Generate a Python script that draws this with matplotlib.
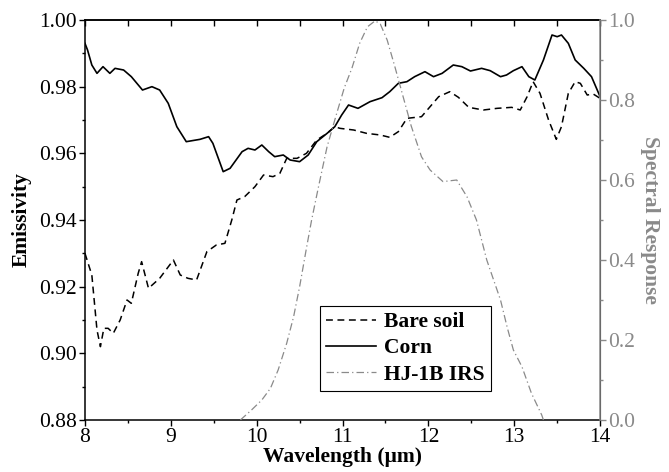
import matplotlib
matplotlib.use("Agg")
import matplotlib.pyplot as plt
from matplotlib.ticker import MultipleLocator, FormatStrFormatter

plt.rcParams['font.family'] = ['Liberation Serif', 'DejaVu Serif']

# Emissivity spectra
corn_wl = [8.00, 8.03, 8.08, 8.14, 8.21, 8.29, 8.35, 8.45, 8.54, 8.67,
           8.78, 8.87, 8.97, 9.07, 9.18, 9.34, 9.44, 9.49, 9.61, 9.69,
           9.83, 9.90, 9.98, 10.06, 10.14, 10.21, 10.31, 10.39, 10.50, 10.60,
           10.70, 10.82, 10.91, 10.99, 11.07, 11.18, 11.32, 11.46, 11.55, 11.65,
           11.75, 11.84, 11.96, 12.06, 12.16, 12.29, 12.39, 12.49, 12.62, 12.72,
           12.84, 12.91, 12.99, 13.09, 13.17, 13.24, 13.34, 13.44, 13.50, 13.55,
           13.63, 13.71, 13.81, 13.90, 14.00]
corn_em = [0.993, 0.991, 0.9865, 0.984, 0.986, 0.984, 0.9855, 0.985, 0.983, 0.979,
           0.980, 0.979, 0.975, 0.968, 0.9635, 0.9642, 0.965, 0.963, 0.9545, 0.9555,
           0.9605, 0.9615, 0.961, 0.9625, 0.9605, 0.959, 0.9595, 0.958, 0.9575, 0.9595,
           0.9635, 0.966, 0.968, 0.9715, 0.9745, 0.9735, 0.9755, 0.9767, 0.9785, 0.981,
           0.9815, 0.983, 0.9845, 0.983, 0.984, 0.9865, 0.986, 0.9847, 0.9855, 0.9848,
           0.983, 0.9835, 0.9848, 0.986, 0.983, 0.982, 0.988, 0.9955, 0.995, 0.9955,
           0.993, 0.988, 0.9855, 0.983, 0.977]

soil_wl = [8.00, 8.08, 8.14, 8.18, 8.22, 8.27, 8.33, 8.41, 8.49, 8.54,
           8.62, 8.66, 8.74, 8.87, 9.03, 9.11, 9.20, 9.30, 9.42, 9.53,
           9.63, 9.71, 9.77, 9.86, 9.98, 10.08, 10.19, 10.27, 10.35, 10.47,
           10.58, 10.70, 10.82, 10.91, 10.97, 11.13, 11.28, 11.44, 11.55, 11.65,
           11.75, 11.92, 12.02, 12.12, 12.25, 12.35, 12.47, 12.64, 12.80, 12.97,
           13.07, 13.15, 13.22, 13.30, 13.40, 13.49, 13.55, 13.63, 13.71, 13.77,
           13.85, 13.92, 14.00]
soil_em = [0.930, 0.9235, 0.907, 0.902, 0.9075, 0.9075, 0.906, 0.910, 0.916, 0.915,
           0.924, 0.9275, 0.9195, 0.9225, 0.928, 0.9235, 0.9225, 0.922, 0.9305, 0.9325,
           0.933, 0.940, 0.946, 0.947, 0.950, 0.9535, 0.953, 0.954, 0.9585, 0.9585,
           0.960, 0.964, 0.966, 0.968, 0.9675, 0.967, 0.966, 0.9655, 0.9648, 0.9665,
           0.9705, 0.971, 0.974, 0.977, 0.9785, 0.9768, 0.9738, 0.973, 0.9735, 0.9738,
           0.973, 0.977, 0.9815, 0.978, 0.970, 0.9642, 0.968, 0.978, 0.9815, 0.981,
           0.9775, 0.9778, 0.9765]

# HJ-1B IRS spectral response function
srf_wl = [9.81, 9.94, 10.06, 10.16, 10.25, 10.35, 10.43, 10.50, 10.58, 10.64,
          10.72, 10.82, 10.93, 11.02, 11.11, 11.20, 11.29, 11.38, 11.44, 11.52,
          11.61, 11.71, 11.80, 11.92, 12.02, 12.17, 12.33, 12.45, 12.56, 12.62,
          12.68, 12.76, 12.84, 12.92, 12.99, 13.09, 13.20, 13.32, 13.34]
srf_val = [0.0, 0.025, 0.05, 0.079, 0.125, 0.192, 0.258, 0.333, 0.43, 0.50,
           0.583, 0.683, 0.765, 0.83, 0.88, 0.942, 0.983, 0.998, 0.99, 0.95,
           0.883, 0.805, 0.735, 0.658, 0.625, 0.596, 0.60, 0.558, 0.50, 0.45,
           0.40, 0.35, 0.30, 0.23, 0.175, 0.133, 0.067, 0.0125, 0.0]

GRAY = '#8a8a8a'
FS = 15.5

fig = plt.figure(figsize=(6.69, 4.72), dpi=100)
ax = fig.add_axes([0.127, 0.1102, 0.770, 0.8474])

l_soil, = ax.plot(soil_wl, soil_em, color='black', lw=1.1,
                  linestyle=(0, (4.5, 3)), label='Bare soil')
l_corn, = ax.plot(corn_wl, corn_em, color='black', lw=1.2, label='Corn')

ax.set_xlim(8, 14)
ax.set_ylim(0.88, 1.00)
ax.xaxis.set_major_locator(MultipleLocator(1))
ax.xaxis.set_minor_locator(MultipleLocator(0.5))
ax.yaxis.set_major_locator(MultipleLocator(0.02))
ax.yaxis.set_minor_locator(MultipleLocator(0.01))
ax.yaxis.set_major_formatter(FormatStrFormatter('%.2f'))
ax.tick_params(axis='both', which='major', direction='out', length=4, width=1,
               labelsize=FS, top=False, right=False, pad=2)
ax.tick_params(axis='both', which='minor', direction='out', length=2.5, width=1,
               top=False, right=False)
for s in ['left', 'bottom', 'top']:
    ax.spines[s].set_linewidth(1.1)

# inward ticks on the top edge
top = ax.secondary_xaxis('top')
top.xaxis.set_major_locator(MultipleLocator(1))
top.xaxis.set_minor_locator(MultipleLocator(0.5))
top.tick_params(which='both', direction='in', length=4, width=1, labeltop=False)
top.spines['top'].set_linewidth(1.1)

ax.set_xlabel('Wavelength (μm)', fontsize=FS, fontweight='bold', labelpad=0)
ax.set_ylabel('Emissivity', fontsize=FS, fontweight='bold', labelpad=5)

ax2 = ax.twinx()
l_srf, = ax2.plot(srf_wl, srf_val, color=GRAY, lw=0.9,
                  linestyle=(0, (6, 2.5, 1, 2.5)), label='HJ-1B IRS')
ax2.set_ylim(0, 1.0)
ax2.yaxis.set_major_locator(MultipleLocator(0.2))
ax2.yaxis.set_minor_locator(MultipleLocator(0.1))
ax2.yaxis.set_major_formatter(FormatStrFormatter('%.1f'))
ax2.tick_params(axis='y', which='major', direction='out', length=4, width=1,
                colors=GRAY, labelsize=FS, pad=2)
ax2.tick_params(axis='y', which='minor', direction='out', length=2.5, width=1,
                colors=GRAY)
ax2.spines['right'].set_color(GRAY)
ax2.spines['right'].set_linewidth(1.1)
for s in ['left', 'top', 'bottom']:
    ax2.spines[s].set_visible(False)
ax2.set_ylabel('Spectral Response', fontsize=FS, fontweight='bold',
               color=GRAY, rotation=270, labelpad=18)

leg = ax2.legend(handles=[l_soil, l_corn, l_srf], loc='lower left',
                 bbox_to_anchor=(0.456, 0.0725), borderaxespad=0,
                 frameon=True, fancybox=False,
                 edgecolor='black', framealpha=1, borderpad=0.3,
                 handlelength=2.3, handletextpad=0.4, labelspacing=0.28,
                 prop={'size': FS, 'weight': 'bold'})
leg.get_frame().set_linewidth(0.8)

fig.savefig('out.png', dpi=100)
